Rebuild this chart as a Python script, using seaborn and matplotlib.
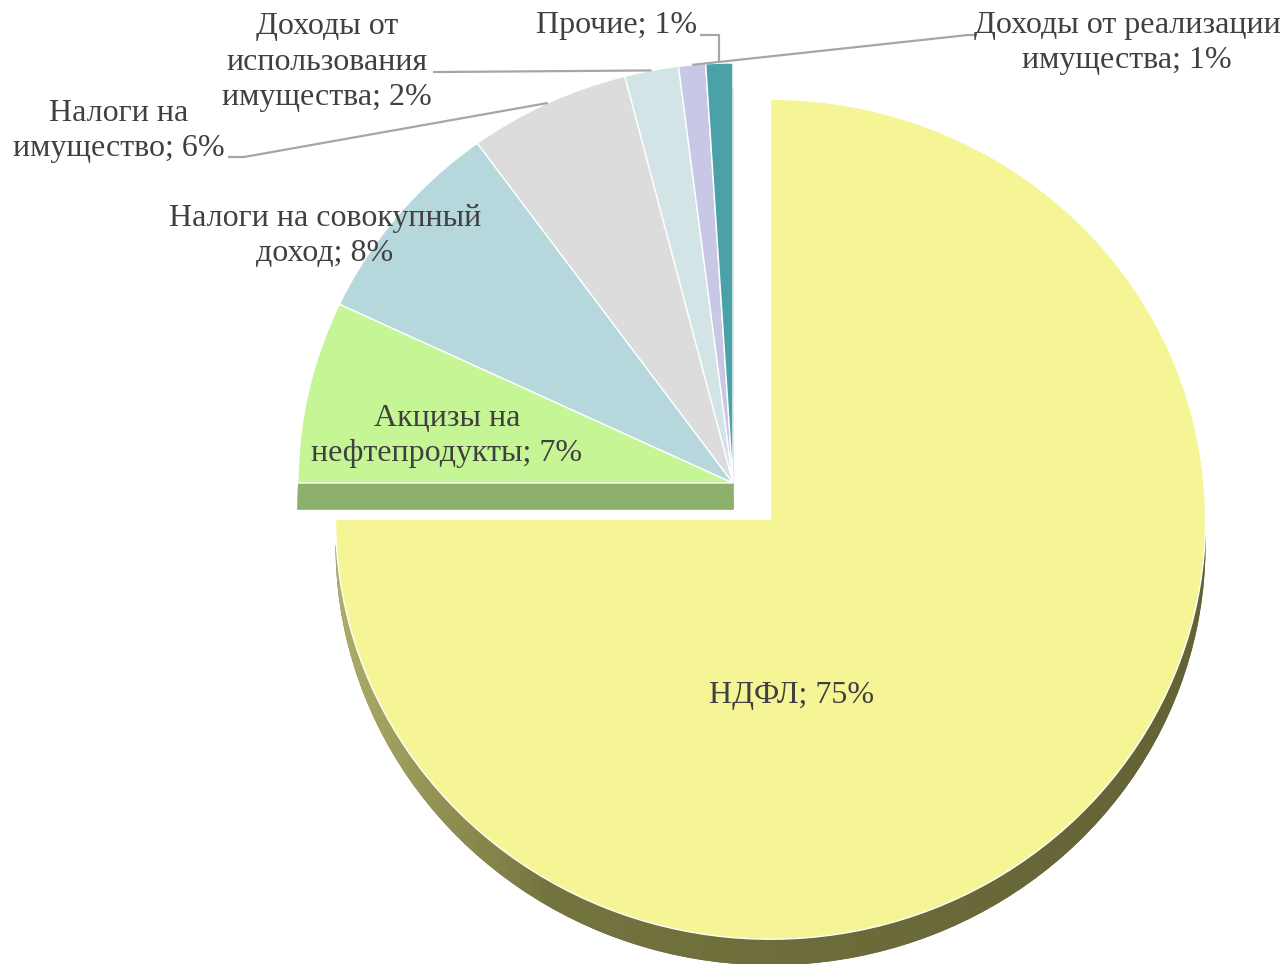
import numpy as np
import matplotlib
matplotlib.use("Agg")
import matplotlib.pyplot as plt
import seaborn as sns
from matplotlib.colors import LinearSegmentedColormap

# data
labels = ["НДФЛ", "Акцизы на\nнефтепродукты", "Налоги на совокупный\nдоход",
          "Налоги на\nимущество", "Доходы от\nиспользования\nимущества",
          "Доходы от реализации\nимущества", "Прочие"]
shares = [75, 7, 8, 6, 2, 1, 1]
top_colors = ["#f5f596", "#c6f596", "#b6d7db", "#dcdcdc", "#d2e4e6", "#c8c8e6", "#4aa2a8"]
# side faces: the front cut of the left block shows in the green of the front slice
side_colors = ["#666639"] + ["#8db16c"] * 6

sns.set_theme(style="white")
plt.rcParams["font.family"] = ["Liberation Serif", "DejaVu Serif"]

W, H = 1286, 964
fig = plt.figure(figsize=(W / 100, H / 100), dpi=100)
ax = fig.add_axes([0, 0, 1, 1])

# pixel geometry of the pie (center of the non-exploded slices, radii)
CX, CY, RX, RY = 733, 483, 435, 420
XLIM = (-CX / RX, (W - CX) / RX)
YLIM = (-(H - CY) / RY, CY / RY)
depth = 26 / RY
explode = [0.122, 0, 0, 0, 0, 0, 0]


def px(x, y):
    return (x - CX) / RX, (CY - y) / RY


# side (depth) layer
side, _ = ax.pie(shares, colors=side_colors, startangle=90, counterclock=False,
                 explode=explode, center=(0, -depth),
                 wedgeprops=dict(linewidth=0))
for w in side[1:]:
    w.set_edgecolor(w.get_facecolor())
    w.set_linewidth(1.2)
# gradient on the big slice side
cmap = LinearSegmentedColormap.from_list(
    "rim", [(0, "#b2b26c"), (0.25, "#74743f"), (1, "#626236")])
grad = np.linspace(0, 1, 256).reshape(1, -1)
im = ax.imshow(grad, cmap=cmap, aspect="auto", extent=(-0.95, 1.15, -1.3, 0.0), zorder=1.5)
im.set_clip_path(side[0])

# top faces
wedges, _ = ax.pie(shares, colors=top_colors, startangle=90, counterclock=False,
                   explode=explode, wedgeprops=dict(edgecolor="white", linewidth=1.0))
for w in wedges:
    w.set_zorder(3)

ax.set_aspect("auto")
ax.set_xlim(*XLIM)
ax.set_ylim(*YLIM)
ax.axis("off")

txt = dict(fontsize=23, color="#404040", ha="center", va="center",
           linespacing=1.28, zorder=5)
label_pos = [(792, 695), (447, 436), (325, 236), (119, 131), (327, 62),
             (1127, 43), (617, 25)]
for lab, val, (x, y) in zip(labels, shares, label_pos):
    ax.text(*px(x, y), f"{lab}; {val}%", **txt)


def mid_point(w):
    a = np.deg2rad((w.theta1 + w.theta2) / 2)
    return w.center[0] + w.r * np.cos(a), w.center[1] + w.r * np.sin(a)


# leader lines: label-side points (pixels) then slice arc midpoint
leaders = {
    3: [(228, 157), (244, 157)],
    4: [(433, 72), (440, 72)],
    5: [(975, 35), (968, 35)],
    6: [(700, 35), (716, 35)],
}
for i, pts in leaders.items():
    xs = [px(*p)[0] for p in pts]
    ys = [px(*p)[1] for p in pts]
    mx, my = mid_point(wedges[i])
    if i == 6:
        xs.append(mx)
        ys.append(ys[-1])
    xs.append(mx)
    ys.append(my)
    ax.plot(xs, ys, color="#a6a6a6", lw=1.6, zorder=4, solid_capstyle="butt")

fig.savefig("out.png", dpi=100, facecolor="white")
